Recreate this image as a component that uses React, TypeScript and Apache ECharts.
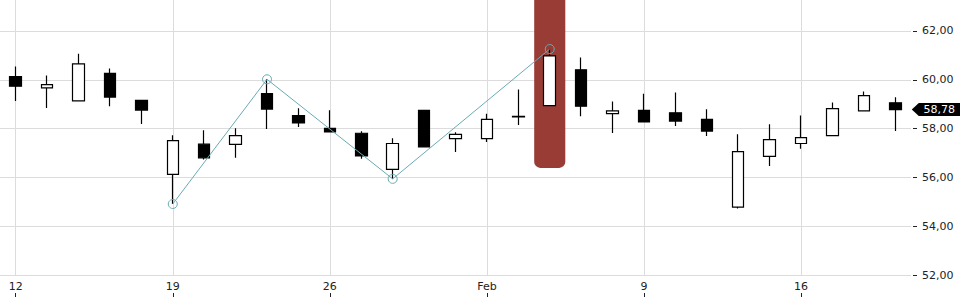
import React, { useEffect, useRef } from "react";
import * as echarts from "echarts";

const categories = [
  "Jan 12", "Jan 13", "Jan 14", "Jan 15", "Jan 16",
  "Jan 19", "Jan 20", "Jan 21", "Jan 22", "Jan 23",
  "Jan 26", "Jan 27", "Jan 28", "Jan 29", "Jan 30",
  "Feb 2", "Feb 3", "Feb 4", "Feb 5", "Feb 6",
  "Feb 9", "Feb 10", "Feb 11", "Feb 12", "Feb 13",
  "Feb 16", "Feb 17", "Feb 18", "Feb 19",
];

const opens = [
  60.13, 59.67, 59.14, 60.26, 59.16,
  56.12, 57.36, 57.35, 59.43, 58.53,
  58.01, 57.81, 56.33, 58.75, 57.59,
  57.59, 58.48, 58.94, 60.41, 58.61,
  58.75, 58.65, 58.38, 54.78, 56.86,
  57.39, 57.71, 58.73, 59.06,
];
const closes = [
  59.74, 59.8, 60.65, 59.29, 58.76,
  57.51, 56.8, 57.71, 58.8, 58.23,
  57.86, 56.88, 57.39, 57.25, 57.76,
  58.38, 58.5, 60.98, 58.92, 58.73,
  58.27, 58.31, 57.9, 57.06, 57.55,
  57.63, 58.82, 59.35, 58.78,
];
const lows = [
  59.13, 58.84, 59.14, 58.92, 58.19,
  54.91, 56.73, 56.8, 57.98, 58.07,
  57.86, 56.76, 55.94, 57.25, 57.04,
  57.45, 58.15, 58.94, 58.51, 57.82,
  58.26, 58.11, 57.7, 54.73, 56.47,
  57.17, 57.71, 58.73, 57.9,
];
const highs = [
  60.54, 60.18, 61.07, 60.46, 59.16,
  57.73, 57.93, 58.01, 60.02, 58.83,
  58.75, 57.89, 57.6, 58.75, 57.85,
  58.61, 59.6, 61.27, 60.91, 59.11,
  59.43, 59.48, 58.79, 57.77, 58.18,
  58.54, 59.07, 59.52, 59.28,
];

// zigzag pivot points
const zigzagCategories = ["Jan 19", "Jan 22", "Jan 28", "Feb 4"];
const zigzagValues = [54.91, 60.02, 55.94, 61.26];

// highlighted candle
const highlightCategory = "Feb 4";
const highlightLow = 56.39;

const tickCategories = ["Jan 12", "Jan 19", "Jan 26", "Feb 2", "Feb 9", "Feb 16"];
const tickLabels = ["12", "19", "26", "Feb", "9", "16"];

const yTicks = [52, 54, 56, 58, 60, 62];
const yMin = 52;
const yMax = 63.27;
const yInterval = 2;

const fmt = (v: number) => v.toFixed(2).replace(".", ",");

export default function App() {
  const ref = useRef<HTMLDivElement>(null);

  useEffect(() => {
    if (!ref.current) return;
    const chart = echarts.init(ref.current, undefined, { renderer: "svg" });

    const candleData = categories.map((_, i) => [opens[i], closes[i], lows[i], highs[i]]);
    const zigzagData = categories.map((c) => {
      const k = zigzagCategories.indexOf(c);
      return k >= 0 ? zigzagValues[k] : null;
    });
    const hlBase = categories.map((c) => (c === highlightCategory ? highlightLow : null));
    const hlTop = categories.map((c) => (c === highlightCategory ? yMax + 1 - highlightLow : null));
    const isTick = (i: number) => tickCategories.indexOf(categories[i]) >= 0;
    const lastIdx = categories.length - 1;
    const font = "DejaVu Sans";

    chart.setOption({
      animation: false,
      backgroundColor: "#fff",
      grid: { left: 0, right: 49, top: 0, bottom: 25, containLabel: false },
      xAxis: {
        type: "category",
        data: categories,
        boundaryGap: true,
        offset: 22,
        axisLine: { show: false },
        axisTick: {
          show: true,
          inside: true,
          length: 4,
          alignWithLabel: true,
          interval: (i: number) => isTick(i),
          lineStyle: { color: "#222" },
        },
        axisLabel: {
          inside: true,
          margin: 5,
          interval: (i: number) => isTick(i),
          formatter: (v: string) => {
            const k = tickCategories.indexOf(v);
            return k >= 0 ? tickLabels[k] : "";
          },
          color: "#222",
          fontSize: 11,
          fontFamily: font,
        },
        splitLine: {
          show: true,
          alignWithLabel: true,
          interval: (i: number) => isTick(i),
          lineStyle: { color: "#dcdcdc", width: 1 },
        },
      },
      yAxis: {
        type: "value",
        position: "right",
        min: yMin,
        max: yMax,
        interval: yInterval,
        offset: 2,
        axisLine: { show: false },
        axisTick: { show: true, length: 4, customValues: yTicks, lineStyle: { color: "#222" } },
        axisLabel: {
          margin: 9,
          customValues: yTicks,
          formatter: (v: number) => fmt(v),
          color: "#222",
          fontSize: 11,
          fontFamily: font,
        },
        splitLine: { show: true, lineStyle: { color: "#dcdcdc", width: 1 } },
      },
      series: [
        {
          type: "bar",
          stack: "hl",
          data: hlBase,
          barWidth: "99%",
          itemStyle: { color: "transparent" },
          z: 1,
          silent: true,
        },
        {
          type: "bar",
          stack: "hl",
          data: hlTop,
          barWidth: "99%",
          itemStyle: { color: "#993c36", borderRadius: [0, 0, 6, 6] },
          z: 1,
          silent: true,
        },
        {
          type: "candlestick",
          data: candleData,
          barWidth: 12,
          z: 3,
          itemStyle: {
            color: "#ffffff",
            color0: "#000000",
            borderColor: "#000000",
            borderColor0: "#000000",
            borderColorDoji: "#000000",
            borderWidth: 1.2,
          },
          markPoint: {
            symbol: "path://M0,6.5L7,0L49,0L49,13L7,13Z",
            symbolSize: [49, 13],
            symbolOffset: [41, 0],
            itemStyle: { color: "#000" },
            label: {
              show: true,
              position: "inside",
              offset: [3, 0],
              color: "#fff",
              fontSize: 11,
              fontFamily: font,
              formatter: () => fmt(closes[lastIdx]),
            },
            data: [{ coord: [categories[lastIdx], closes[lastIdx]], value: closes[lastIdx] }],
          },
        },
        {
          type: "line",
          data: zigzagData,
          connectNulls: true,
          z: 5,
          symbol: "circle",
          symbolSize: 9,
          showSymbol: true,
          lineStyle: { color: "#6aaab4", width: 1 },
          itemStyle: { color: "rgba(0,0,0,0)", borderColor: "#6aaab4", borderWidth: 1 },
        },
      ],
    });

    return () => chart.dispose();
  }, []);

  return (
    <div
      ref={ref}
      style={{ position: "fixed", left: 0, top: 0, width: 960, height: 300 }}
    />
  );
}
